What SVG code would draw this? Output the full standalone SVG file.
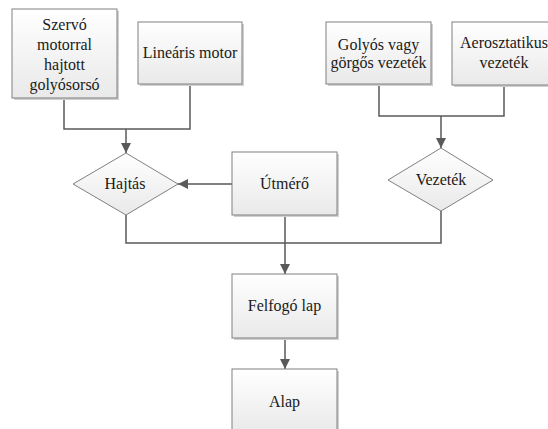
<svg xmlns="http://www.w3.org/2000/svg" width="548" height="429" viewBox="0 0 548 429">
<defs>
<linearGradient id="g" x1="0" y1="0" x2="0" y2="1">
<stop offset="0" stop-color="#ffffff"/>
<stop offset="1" stop-color="#e9e9e9"/>
</linearGradient>
<marker id="ah" viewBox="0 0 10 10" refX="10" refY="5" markerWidth="10" markerHeight="10" markerUnits="userSpaceOnUse" orient="auto">
<path d="M0,0 L10,5 L0,10 Z" fill="#595959"/>
</marker>
</defs>
<style>
.box{fill:url(#g);stroke:#808080;stroke-width:1}
.sh{fill:#d0d0d0}
.t{font-family:'Liberation Serif','DejaVu Serif',serif;font-size:16px;fill:#1a1a1a;text-anchor:middle}
.c{fill:none;stroke:#595959;stroke-width:1.5}
</style>
<rect width="548" height="429" fill="#ffffff"/>
<g id="connectors">
<polyline class="c" points="64,98 64,129 190,129 190,84"/>
<line class="c" x1="126" y1="129" x2="126" y2="153" marker-end="url(#ah)"/>
<polyline class="c" points="379,84 379,116 504,116 504,85"/>
<line class="c" x1="441" y1="116" x2="441" y2="148" marker-end="url(#ah)"/>
<line class="c" x1="232" y1="184" x2="178" y2="184" marker-end="url(#ah)"/>
<polyline class="c" points="126,215 126,243 441,243 441,211"/>
<line class="c" x1="285" y1="215" x2="285" y2="274" marker-end="url(#ah)"/>
<line class="c" x1="285" y1="338" x2="285" y2="369" marker-end="url(#ah)"/>
</g>
<g font-family="Liberation Serif, DejaVu Serif, serif">
<g id="n1">
<rect class="sh" x="14" y="11" width="105" height="89"/>
<rect class="box" x="12" y="9" width="105" height="89"/>
<text class="t" font-family="Liberation Serif, serif" x="64.5" y="30">Szervó</text>
<text class="t" font-family="Liberation Serif, serif" x="64.5" y="50">motorral</text>
<text class="t" font-family="Liberation Serif, serif" x="64.5" y="70">hajtott</text>
<text class="t" font-family="Liberation Serif, serif" x="64.5" y="90">golyósorsó</text>
</g>
<g id="n2">
<rect class="sh" x="140" y="24" width="104" height="62"/>
<rect class="box" x="138" y="22" width="104" height="62"/>
<text class="t" x="190" y="58">Lineáris motor</text>
</g>
<g id="n3">
<rect class="sh" x="328" y="24" width="105" height="62"/>
<rect class="box" x="326" y="22" width="105" height="62"/>
<text class="t" x="378.5" y="50">Golyós vagy</text>
<text class="t" x="378.5" y="68">görgős vezeték</text>
</g>
<g id="n4">
<rect class="sh" x="454" y="24" width="104" height="63"/>
<rect class="box" x="452" y="22" width="104" height="63"/>
<text class="t" x="504" y="48">Aerosztatikus</text>
<text class="t" x="504" y="68">vezeték</text>
</g>
<g id="n5">
<polygon class="box" points="126,153 178,184 126,215 73,184"/>
<text class="t" x="125" y="189">Hajtás</text>
</g>
<g id="n6">
<rect class="sh" x="234" y="154" width="105" height="63"/>
<rect class="box" x="232" y="152" width="105" height="63"/>
<text class="t" x="284.5" y="189">Útmérő</text>
</g>
<g id="n7">
<polygon class="box" points="441,148 493,180 441,211 388,180"/>
<text class="t" x="441" y="185">Vezeték</text>
</g>
<g id="n8">
<rect class="sh" x="234" y="276" width="105" height="64"/>
<rect class="box" x="232" y="274" width="105" height="64"/>
<text class="t" x="284.5" y="311">Felfogó lap</text>
</g>
<g id="n9">
<rect class="sh" x="234" y="371" width="105" height="64"/>
<rect class="box" x="232" y="369" width="105" height="64"/>
<text class="t" x="284.5" y="407">Alap</text>
</g>
</g>
</svg>
